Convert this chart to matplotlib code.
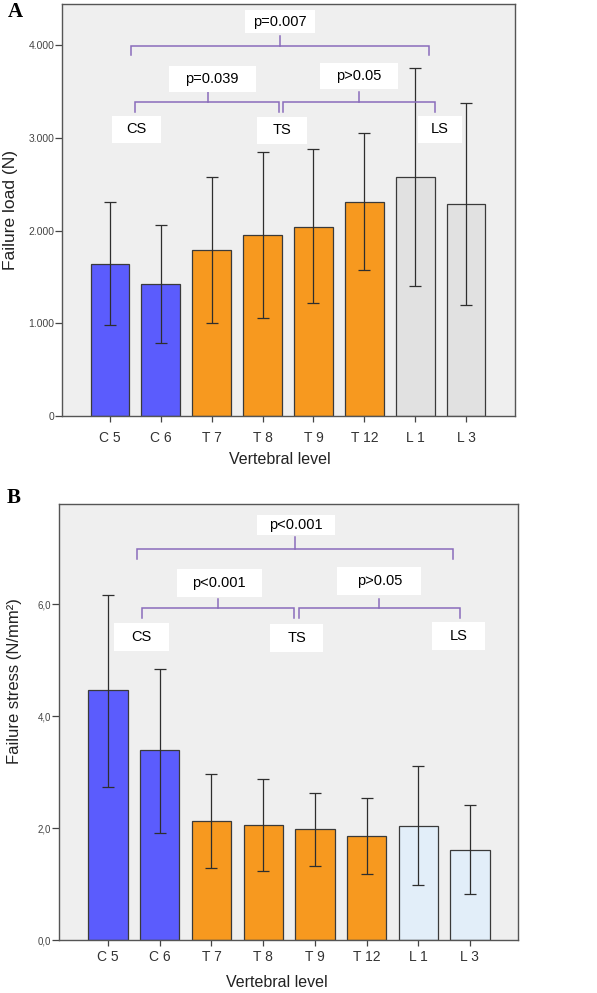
import numpy as np
import matplotlib
matplotlib.use("Agg")
import matplotlib.pyplot as plt
from matplotlib.patches import Rectangle

plt.rcParams['font.family'] = ['Liberation Sans', 'DejaVu Sans']

# data
levels = ['C 5', 'C 6', 'T 7', 'T 8', 'T 9', 'T 12', 'L 1', 'L 3']

load_mean = [1644, 1424, 1791, 1953, 2043, 2313, 2579, 2288]
load_upper = [2306, 2061, 2583, 2851, 2877, 3050, 3751, 3373]
load_lower = [982, 788, 1000, 1054, 1219, 1576, 1399, 1198]
load_ticks = [0, 1000, 2000, 3000, 4000]
load_ticklabels = ['0', '1.000', '2.000', '3.000', '4.000']

stress_mean = [4.46, 3.40, 2.12, 2.06, 1.98, 1.86, 2.04, 1.61]
stress_upper = [6.16, 4.85, 2.96, 2.88, 2.63, 2.53, 3.10, 2.41]
stress_lower = [2.74, 1.92, 1.28, 1.24, 1.33, 1.18, 0.98, 0.82]
stress_ticks = [0, 2, 4, 6]
stress_ticklabels = ['0,0', '2,0', '4,0', '6,0']

blue = '#5b5cfd'
orange = '#f7991f'
colors_a = [blue] * 2 + [orange] * 4 + ['#e1e1e1'] * 2
colors_b = [blue] * 2 + [orange] * 4 + ['#e2eef9'] * 2

# brackets: (x_left, x_right, x_mid, y, drop, rise)
brackets_a = [
    (0.41, 6.27, 3.34, 3990, 97, 110),
    (0.49, 3.33, 1.93, 3391, 108, 107),
    (3.41, 6.39, 4.90, 3391, 108, 107),
]
# white label boxes: (text, x, y, box width px, box height px)
labels_a = [
    ('p=0.007', 3.34, 4256, 70, 23),
    ('p=0.039', 2.01, 3639, 87, 26),
    ('p>0.05', 4.89, 3668, 78, 26),
    ('CS', 0.52, 3096, 49, 27),
    ('TS', 3.38, 3085, 50, 27),
    ('LS', 6.48, 3096, 44, 27),
]

brackets_b = [
    (0.55, 6.67, 3.61, 6.98, 0.18, 0.22),
    (0.65, 3.60, 2.13, 5.93, 0.17, 0.16),
    (3.69, 6.80, 5.24, 5.93, 0.17, 0.16),
]
labels_b = [
    ('p<0.001', 3.63, 7.41, 78, 20),
    ('p<0.001', 2.15, 6.37, 85, 28),
    ('p>0.05', 5.25, 6.41, 84, 28),
    ('CS', 0.65, 5.42, 55, 28),
    ('TS', 3.65, 5.40, 53, 28),
    ('LS', 6.78, 5.43, 53, 28),
]

W, H = 597, 993
fig = plt.figure(figsize=(W / 100, H / 100), dpi=100)
fig.patch.set_facecolor('white')

purple = '#8a6cbb'


def panel(rect, mean, upper, lower, colors, ylim, xlim, ticks, ticklabels,
          ylabel, brackets, labels, ytick_size, xpad, ylabel_size):
    l, t, r, b = rect
    ax = fig.add_axes([l / W, 1 - b / H, (r - l) / W, (b - t) / H])
    ax.set_facecolor('#efefef')
    x = np.arange(len(levels))
    mean = np.array(mean)
    err = [mean - np.array(lower), np.array(upper) - mean]
    ax.bar(x, mean, width=0.76, color=colors, edgecolor='#3a3a3a',
           linewidth=0.9, zorder=2)
    ax.errorbar(x, mean, yerr=err, fmt='none', ecolor='#2e2e2e',
                elinewidth=0.9, capsize=4.5, capthick=0.9, zorder=3)
    ax.set_xlim(*xlim)
    ax.set_ylim(*ylim)
    ax.set_xticks(x)
    ax.set_xticklabels(levels, fontsize=10, color='#333333')
    ax.set_yticks(ticks)
    ax.set_yticklabels(ticklabels, fontsize=ytick_size, color='#444444')
    ax.tick_params(axis='y', direction='out', length=5, width=0.9,
                   pad=0.5, color='#444444')
    ax.tick_params(axis='x', direction='out', length=4, width=0.9,
                   pad=xpad, color='#444444')
    for s in ax.spines.values():
        s.set_color('#555555')
        s.set_linewidth(1.0)
    ax.set_ylabel(ylabel, fontsize=ylabel_size, color='#222222')
    ax.set_xlabel('Vertebral level', fontsize=11.5, color='#222222')

    # pixel -> data scale for the label boxes
    sx = (xlim[1] - xlim[0]) / (r - l)
    sy = (ylim[1] - ylim[0]) / (b - t)

    # significance brackets
    for xl, xr, xm, y, drop, rise in brackets:
        ax.plot([xl, xl, xr, xr], [y - drop, y, y, y - drop], color=purple,
                lw=1.1, zorder=4, solid_joinstyle='miter')
        ax.plot([xm, xm], [y, y + rise], color=purple, lw=1.1, zorder=4)
    for txt, tx, ty, bw, bh in labels:
        ax.add_patch(Rectangle((tx - bw * sx / 2, ty - bh * sy / 2),
                               bw * sx, bh * sy, fc='white', ec='none',
                               zorder=5))
        ax.text(tx, ty, txt, ha='center', va='center', fontsize=10.5,
                zorder=6)
    return ax


ax_a = panel((62, 4, 515, 416), load_mean, load_upper, load_lower, colors_a,
             (0, 4445), (-0.94, 7.96), load_ticks, load_ticklabels,
             'Failure load (N)', brackets_a, labels_a, 7.5, 7, 12.5)
ax_a.yaxis.set_label_coords(-0.098, 0.5)
ax_a.xaxis.set_label_coords(0.48, -0.087)

ax_b = panel((59, 504, 518, 940), stress_mean, stress_upper, stress_lower,
             colors_b, (0, 7.79), (-0.95, 7.93), stress_ticks,
             stress_ticklabels, 'Failure stress (N/mm\u00b2)', brackets_b,
             labels_b, 7, 3, 12)
ax_b.yaxis.set_label_coords(-0.08, 0.594)
ax_b.xaxis.set_label_coords(0.474, -0.080)

fig.text(8 / W, 1 - 2 / H, 'A', fontsize=15, fontweight='bold',
         family='Liberation Serif', va='top', ha='left')
fig.text(7 / W, 1 - 488 / H, 'B', fontsize=15, fontweight='bold',
         family='Liberation Serif', va='top', ha='left')

fig.savefig('out.png', dpi=100, facecolor='white')
